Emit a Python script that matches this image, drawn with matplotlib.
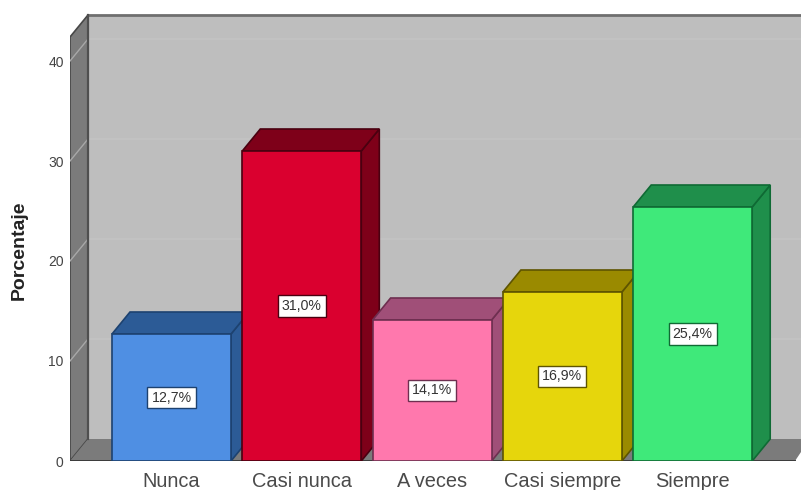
import matplotlib
matplotlib.use("Agg")
from matplotlib import pyplot as plt
from matplotlib.patches import Polygon

categories = ["Nunca", "Casi nunca", "A veces", "Casi siempre", "Siempre"]
percentages = [12.7, 31.0, 14.1, 16.9, 25.4]
value_labels = ["12,7%", "31,0%", "14,1%", "16,9%", "25,4%"]
front_colors = ["#4f8fe3", "#da002f", "#ff78ad", "#e6d60c", "#3fe97a"]
side_colors = ["#2c5b96", "#7e0019", "#a04f78", "#9a8a00", "#1f8f4b"]
edge_colors = ["#1d4270", "#4a0010", "#6e2f50", "#5e5400", "#0f6a34"]
y_ticks = [0, 10, 20, 30, 40]

plt.rcParams["font.family"] = ["Liberation Sans", "DejaVu Sans"]

W, H = 801, 490
fig = plt.figure(figsize=(W / 100, H / 100), dpi=100)

# axes run from the left wall to the image edge, 10 units = 100 px
left, right, bottom, top = 70, 801, 461, 5
ax = fig.add_axes([left / W, 1 - bottom / H, (right - left) / W, (bottom - top) / H])
unit = 130.3
x0 = (171.5 - left) / unit
ax.set_xlim(-x0, (right - left) / unit - x0)
ax.set_ylim(0, (bottom - top) / 10)
ax.patch.set_visible(False)
for s in ax.spines.values():
    s.set_visible(False)

dx = 18 / unit
dy = 2.2
bar_w = 119 / unit
xa = -x0
xb = (795 - left) / unit - x0
xr = (right - left) / unit - x0
ymax = 44.6 - dy

# back wall, left wall, floor
ax.add_patch(Polygon([(xa + dx, dy), (xa + dx, ymax + dy), (xr, ymax + dy), (xr, dy)],
                     fc="#bebebe", ec="none", zorder=1))
ax.plot([xa + dx, xr], [ymax + dy, ymax + dy], color="#6f6f6f", lw=2, zorder=2)
ax.add_patch(Polygon([(xa, 0), (xa, ymax), (xa + dx, ymax + dy), (xa + dx, dy)],
                     fc="#7b7b7b", ec="#474747", lw=1.2, zorder=2))
ax.add_patch(Polygon([(xa, 0), (xa + dx, dy), (xr, dy), (xr, 0.9), (xb, 0)],
                     fc="#7b7b7b", ec="none", zorder=2))
ax.plot([xa, xb], [0, 0], color="#3c3c3c", lw=1.4, zorder=3)
ax.plot([xa + dx, xa + dx], [dy, ymax + dy], color="#4f4f4f", lw=1.6, zorder=3)

# faint gridlines on the walls
for t in y_ticks[1:]:
    ax.plot([xa + dx, xr], [t + dy, t + dy], color="#c4c4c4", lw=1.2, zorder=1.5)
    ax.plot([xa, xa + dx], [t, t + dy], color="#a8a8a8", lw=1, zorder=2.5)

for i, v in enumerate(percentages):
    z = 4 + i
    l, r = i - bar_w / 2, i + bar_w / 2
    ax.bar(i, v, width=bar_w, color=front_colors[i], edgecolor=edge_colors[i], lw=1.2, zorder=z + 0.2)
    ax.add_patch(Polygon([(r, 0), (r + dx, dy), (r + dx, v + dy), (r, v)],
                         fc=side_colors[i], ec=edge_colors[i], lw=1.2, zorder=z))
    ax.add_patch(Polygon([(l, v), (l + dx, v + dy), (r + dx, v + dy), (r, v)],
                         fc=side_colors[i], ec=edge_colors[i], lw=1.2, zorder=z))
    ax.text(i, v / 2, value_labels[i], ha="center", va="center", fontsize=10.2, color="#333333", zorder=z + 0.5,
            bbox=dict(boxstyle="square,pad=0.28", fc="white", ec=edge_colors[i], lw=1))

ax.set_xticks(range(len(categories)))
ax.set_xticklabels(categories, fontsize=14.4, color="#4a4a4a")
ax.set_yticks(y_ticks)
ax.set_yticklabels([str(t) for t in y_ticks], fontsize=10, color="#444444")
ax.tick_params(axis="both", length=0)
ax.tick_params(axis="x", pad=8)
ax.tick_params(axis="y", pad=4.5)

fig.text(19 / W, 1 - 250 / H, "Porcentaje", rotation=90, ha="center", va="center",
         fontsize=14, fontweight="bold", color="#222222")

fig.savefig("out.png", dpi=100)
